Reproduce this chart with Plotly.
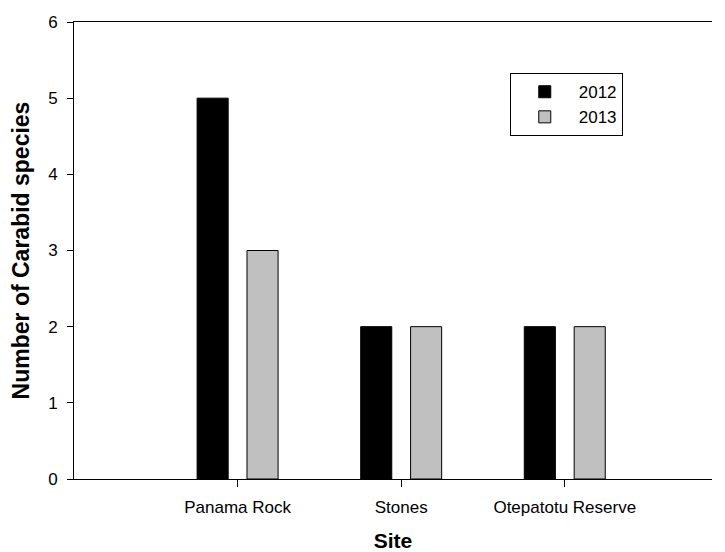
import plotly.graph_objects as go

sites = ["Panama Rock", "Stones", "Otepatotu Reserve"]
species_2012 = [5, 2, 2]
species_2013 = [3, 2, 2]
y_ticks = [0, 1, 2, 3, 4, 5, 6]

font = "Liberation Sans, Arial, sans-serif"

fig = go.Figure()
fig.add_trace(go.Bar(x=sites, y=species_2012, name="2012",
                     marker=dict(color="black", line=dict(color="black", width=1))))
fig.add_trace(go.Bar(x=sites, y=species_2013, name="2013",
                     marker=dict(color="#c0c0c0", line=dict(color="black", width=1))))

fig.update_layout(
    width=717, height=544,
    margin=dict(l=66, r=13, t=14, b=73),
    paper_bgcolor="white", plot_bgcolor="white",
    barmode="group", bargap=0.39, bargroupgap=0.377,
    font=dict(family=font, size=17, color="black"),
    showlegend=True,
    legend=dict(x=0.683, y=0.888, xanchor="left", yanchor="top",
                bordercolor="black", borderwidth=1, bgcolor="white",
                font=dict(size=17), itemwidth=58, tracegroupgap=0),
)
fig.update_xaxes(
    type="category", range=[-1, 2.9], automargin=False,
    showline=True, linecolor="black", linewidth=1, mirror=True,
    ticks="outside", ticklen=7, tickcolor="black", ticklabelstandoff=6,
    showgrid=False, zeroline=False,
    title=dict(text="<b>Site</b>", font=dict(size=21), standoff=18),
)
fig.update_yaxes(
    range=[0, 6], tickvals=y_ticks, automargin=False,
    showline=True, linecolor="black", linewidth=1,
    ticks="outside", ticklen=6, tickcolor="black", ticklabelstandoff=6,
    showgrid=False, zeroline=False,
    title=dict(text="<b>Number of Carabid species</b>", font=dict(size=23), standoff=17),
)

fig.write_html("out.html")
